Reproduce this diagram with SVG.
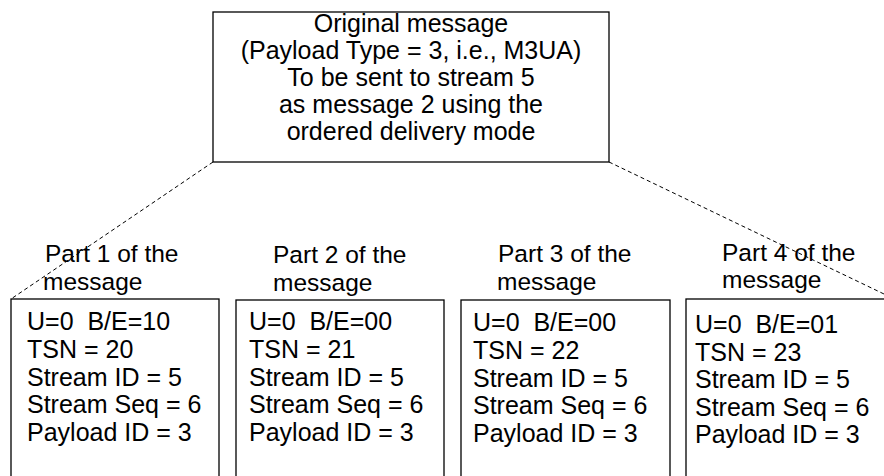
<svg xmlns="http://www.w3.org/2000/svg" width="884" height="476" viewBox="0 0 884 476">
<style>
text { font-family: "Liberation Sans", Arial, sans-serif; fill: #000; }
.t { font-size: 25px; text-anchor: middle; }
.b { font-size: 25px; }
.l { font-size: 24.5px; }
.box { fill: #fff; stroke: #000; stroke-width: 1.3; }
.dash { stroke: #000; stroke-width: 1; stroke-dasharray: 4 3; fill: none; }
</style>
<rect width="884" height="476" fill="#fff"/>
<g id="connectors">
<line class="dash" x1="213" y1="162" x2="11" y2="299"/>
<line class="dash" x1="609" y1="162" x2="884" y2="294"/>
</g>
<g id="original">
<rect class="box" x="213" y="12" width="396" height="150"/>
<text class="t" x="411" y="32">Original message</text>
<text class="t" x="411" y="59">(Payload Type = 3, i.e., M3UA)</text>
<text class="t" x="411" y="86">To be sent to stream 5</text>
<text class="t" x="411" y="113">as message 2 using the</text>
<text class="t" x="411" y="140">ordered delivery mode</text>
</g>
<g id="part1">
<text class="l" x="45" y="262">Part 1 of the</text>
<text class="l" x="43" y="290">message</text>
<rect class="box" x="11" y="299" width="208" height="190"/>
<text class="b" x="27" y="330" xml:space="preserve">U=0  B/E=10</text>
<text class="b" x="27" y="358">TSN = 20</text>
<text class="b" x="27" y="386">Stream ID = 5</text>
<text class="b" x="27" y="413">Stream Seq = 6</text>
<text class="b" x="27" y="441">Payload ID = 3</text>
</g>
<g id="part2">
<text class="l" x="273" y="263">Part 2 of the</text>
<text class="l" x="273" y="291">message</text>
<rect class="box" x="236" y="300" width="208" height="190"/>
<text class="b" x="249" y="330" xml:space="preserve">U=0  B/E=00</text>
<text class="b" x="249" y="358">TSN = 21</text>
<text class="b" x="249" y="386">Stream ID = 5</text>
<text class="b" x="249" y="413">Stream Seq = 6</text>
<text class="b" x="249" y="441">Payload ID = 3</text>
</g>
<g id="part3">
<text class="l" x="498" y="262">Part 3 of the</text>
<text class="l" x="497" y="290">message</text>
<rect class="box" x="461" y="300" width="209" height="190"/>
<text class="b" x="473" y="331" xml:space="preserve">U=0  B/E=00</text>
<text class="b" x="473" y="359">TSN = 22</text>
<text class="b" x="473" y="387">Stream ID = 5</text>
<text class="b" x="473" y="414">Stream Seq = 6</text>
<text class="b" x="473" y="442">Payload ID = 3</text>
</g>
<g id="part4">
<text class="l" x="722" y="261">Part 4 of the</text>
<text class="l" x="722" y="288">message</text>
<rect class="box" x="686" y="299" width="210" height="190"/>
<text class="b" x="695" y="333" xml:space="preserve">U=0  B/E=01</text>
<text class="b" x="695" y="361">TSN = 23</text>
<text class="b" x="695" y="388">Stream ID = 5</text>
<text class="b" x="695" y="416">Stream Seq = 6</text>
<text class="b" x="695" y="443">Payload ID = 3</text>
</g>
</svg>
